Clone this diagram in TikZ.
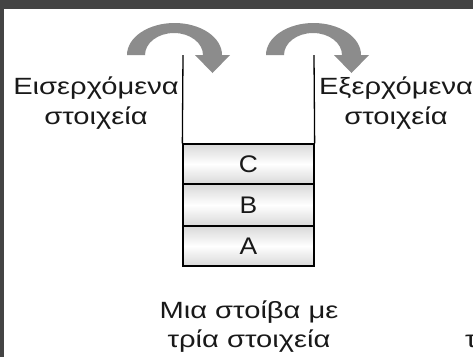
\documentclass[tikz,border=0pt]{standalone}
\usepackage{fontspec}
\setmainfont{Liberation Sans}
\newfontfamily\widefont[FakeStretch=1.24]{Liberation Sans}
\newfontfamily\cellfont[FakeStretch=1.1]{Liberation Sans}
\definecolor{frame}{HTML}{444444}
\definecolor{arrowgray}{HTML}{8C8C8C}
\definecolor{cellgray}{HTML}{D8D8D8}
\tikzset{
  lbl/.style={font=\widefont\fontsize{23.5}{30}\selectfont, align=center, inner sep=0pt, anchor=base, text=black!90},
  cell/.style={draw=black, line width=1.3pt, top color=cellgray, bottom color=cellgray, middle color=white,
    minimum width=131pt, inner sep=0pt, font=\cellfont\fontsize{24}{26}\selectfont, text=black!90},
  wall/.style={draw=black, line width=1.3pt},
  bigarrow/.style={fill=arrowgray, draw=none}
}
\begin{document}
\begin{tikzpicture}[x=1pt,y=-1pt]
\useasboundingbox (0,0) rectangle (473,357);
\fill[white] (0,0) rectangle (473,357);
\fill[frame] (0,0) rectangle (473,9);
\fill[frame] (0,0) rectangle (4,357);
% curved arrows
\foreach \dx in {0,139}{
  \begin{scope}[xshift=\dx pt]
  \fill[bigarrow] (127,55) arc[start angle=180, end angle=360, x radius=47.5, y radius=32]
    -- (230,55) -- (212.5,73) -- (195,55) -- (203,55)
    arc[start angle=360, end angle=180, x radius=29, y radius=22] -- cycle;
  \end{scope}
}
% stack cells
\node[cell, minimum height=40pt] (c) at (248.5,164) {C};
\node[cell, minimum height=42pt] (b) at (248.5,205) {B};
\node[cell, minimum height=40pt] (a) at (248.5,246) {A};
\coordinate (lt) at (183,55);
\coordinate (rt) at (314,55);
\draw[wall] (lt) -- (c.north west);
\draw[wall] (rt) -- (c.north east);
% labels
\node[lbl] (inl) at (96,124) {Εισερχόμενα\\στοιχεία};
\node[lbl] (outl) at (396,124) {Εξερχόμενα\\στοιχεία};
\node[lbl, font=\widefont\fontsize{23.5}{29}\selectfont] (cap) at (249,347) {Μια στοίβα με\\τρία στοιχεία};
\node[lbl, anchor=base west] (cut) at (465,347) {τ};
\end{tikzpicture}
\end{document}
